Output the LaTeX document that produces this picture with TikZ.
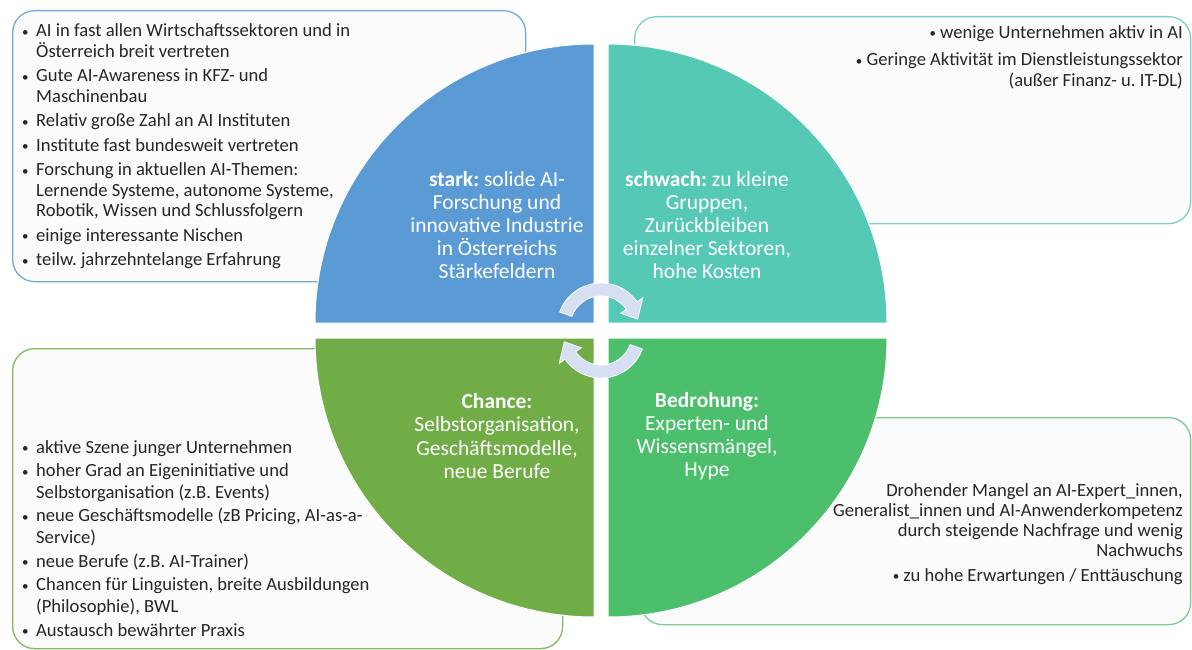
\documentclass[tikz,border=0pt]{standalone}
\usepackage{fontspec}
\setmainfont{Carlito}
\usetikzlibrary{positioning}
\frenchspacing

\definecolor{starkblue}{HTML}{5B9BD5}
\definecolor{schwachteal}{HTML}{55C9B6}
\definecolor{chancegreen}{HTML}{70AD47}
\definecolor{bedrohgreen}{HTML}{4BBF6B}
\definecolor{boxfill}{HTML}{FBFBFB}
\definecolor{arrowfill}{HTML}{D6E0F2}
\definecolor{listtext}{HTML}{262626}

\newcommand{\bdot}{\raisebox{0.5pt}{\fontsize{13}{13}\selectfont\textbullet}}
\newcommand{\bul}{\makebox[14pt][l]{\bdot}}
\newcommand{\hng}{\hspace*{14pt}}

\tikzset{
  infobox/.style={draw, fill=boxfill, line width=1.3pt, rounded corners=22pt, anchor=north west, inner sep=0pt},
  listtxt/.style={inner sep=0pt, text=listtext, font=\fontsize{18.6}{20.5}\selectfont},
  quadtxt/.style={inner sep=0pt, text=white, align=center, font=\fontsize{21.5}{23.2}\selectfont},
  cyclearrow/.style={fill=arrowfill, draw=white, line width=0.8pt},
}

\begin{document}
\begin{tikzpicture}[x=1pt,y=1pt]
\useasboundingbox (0,0) rectangle (1192,-650);

% boxes behind the circle
\node[infobox, draw=starkblue!85, minimum width=513pt, minimum height=271pt] (sbox) at (12,-10) {};
\node[infobox, draw=schwachteal!80, minimum width=556pt, minimum height=207pt] (wbox) at (634,-16) {};
\node[infobox, draw=chancegreen!85, minimum width=550pt, minimum height=300pt] (obox) at (12,-348) {};
\node[infobox, draw=bedrohgreen!75, minimum width=550pt, minimum height=207pt] (tbox) at (640,-417) {};

% the four quarters
\filldraw[fill=starkblue, draw=white, line width=1pt] (594,-323) -- (315,-323) arc[start angle=180, end angle=90, radius=279] -- cycle;
\filldraw[fill=schwachteal, draw=white, line width=1pt] (608,-323) -- (608,-44) arc[start angle=90, end angle=0, radius=279] -- cycle;
\filldraw[fill=chancegreen, draw=white, line width=1pt] (594,-338) -- (315,-338) arc[start angle=180, end angle=270, radius=279] -- cycle;
\filldraw[fill=bedrohgreen, draw=white, line width=1pt] (608,-338) -- (887,-338) arc[start angle=0, end angle=-90, radius=279] -- cycle;

\node[quadtxt] (stark) at (497,-225) {\textbf{stark:} solide AI-\\Forschung und\\innovative Industrie\\in Österreichs\\Stärkefeldern};
\node[quadtxt] (schwach) at (707,-225) {\textbf{schwach:} zu kleine\\Gruppen,\\Zurückbleiben\\einzelner Sektoren,\\hohe Kosten};
\node[quadtxt] (chance) at (497,-436) {\textbf{Chance:}\\Selbstorganisation,\\Geschäftsmodelle,\\neue Berufe};
\node[quadtxt] (bedrohung) at (707,-436) {\textbf{Bedrohung:}\\Experten- und\\Wissensmängel,\\Hype};

% cycle arrows in the middle
\coordinate (ctr) at (601,-330.5);
\filldraw[cyclearrow, shift={(601,-327)}] (160:44) arc[start angle=160, end angle=35, radius=44] -- (35:51) -- (12:37.5) -- (35:24) -- (35:31) arc[start angle=35, end angle=160, radius=31] -- cycle;
\filldraw[cyclearrow, rotate around={180:(ctr)}, shift={(601,-327)}] (160:44) arc[start angle=160, end angle=35, radius=44] -- (35:51) -- (12:37.5) -- (35:24) -- (35:31) arc[start angle=35, end angle=160, radius=31] -- cycle;

% lists
\node[listtxt, align=left, anchor=north west] (slist) at ([shift={(10,-13.5)}]sbox.north west) {\bul AI in fast allen Wirtschaftssektoren und in\\\hng Österreich breit vertreten\\[4pt]
\bul Gute AI-Awareness in KFZ- und\\\hng Maschinenbau\\[4pt]
\bul Relativ große Zahl an AI Instituten\\[4pt]
\bul Institute fast bundesweit vertreten\\[4pt]
\bul Forschung in aktuellen AI-Themen:\\\hng Lernende Systeme, autonome Systeme,\\\hng Robotik, Wissen und Schlussfolgern\\[4pt]
\bul einige interessante Nischen\\[4pt]
\bul teilw. jahrzehntelange Erfahrung};

\node[listtxt, align=right, anchor=north east] (wlist) at (1183,-25) {\bdot\ wenige Unternehmen aktiv in AI\\[7pt]
\bdot\ Geringe Aktivität im Dienstleistungssektor\\(außer Finanz- u. IT-DL)};

\node[listtxt, align=left, anchor=north west, font=\fontsize{18.6}{22}\selectfont] (olist) at ([shift={(10,-92)}]obox.north west) {\bul aktive Szene junger Unternehmen\\[1.4pt]
\bul hoher Grad an Eigeninitiative und\\\hng Selbstorganisation (z.B. Events)\\[1.4pt]
\bul neue Geschäftsmodelle (zB Pricing, AI-as-a-\\\hng Service)\\[1.4pt]
\bul neue Berufe (z.B. AI-Trainer)\\[1.4pt]
\bul Chancen für Linguisten, breite Ausbildungen\\\hng (Philosophie), BWL\\[1.4pt]
\bul Austausch bewährter Praxis};

\node[listtxt, align=right, anchor=north east, font=\fontsize{18.6}{20}\selectfont] (tlist) at (1183,-483) {Drohender Mangel an AI-Expert\_innen,\\Generalist\_innen und AI-Anwenderkompetenz\\durch steigende Nachfrage und wenig\\Nachwuchs\\[5pt]
\bdot\ zu hohe Erwartungen / Enttäuschung};
\end{tikzpicture}
\end{document}
